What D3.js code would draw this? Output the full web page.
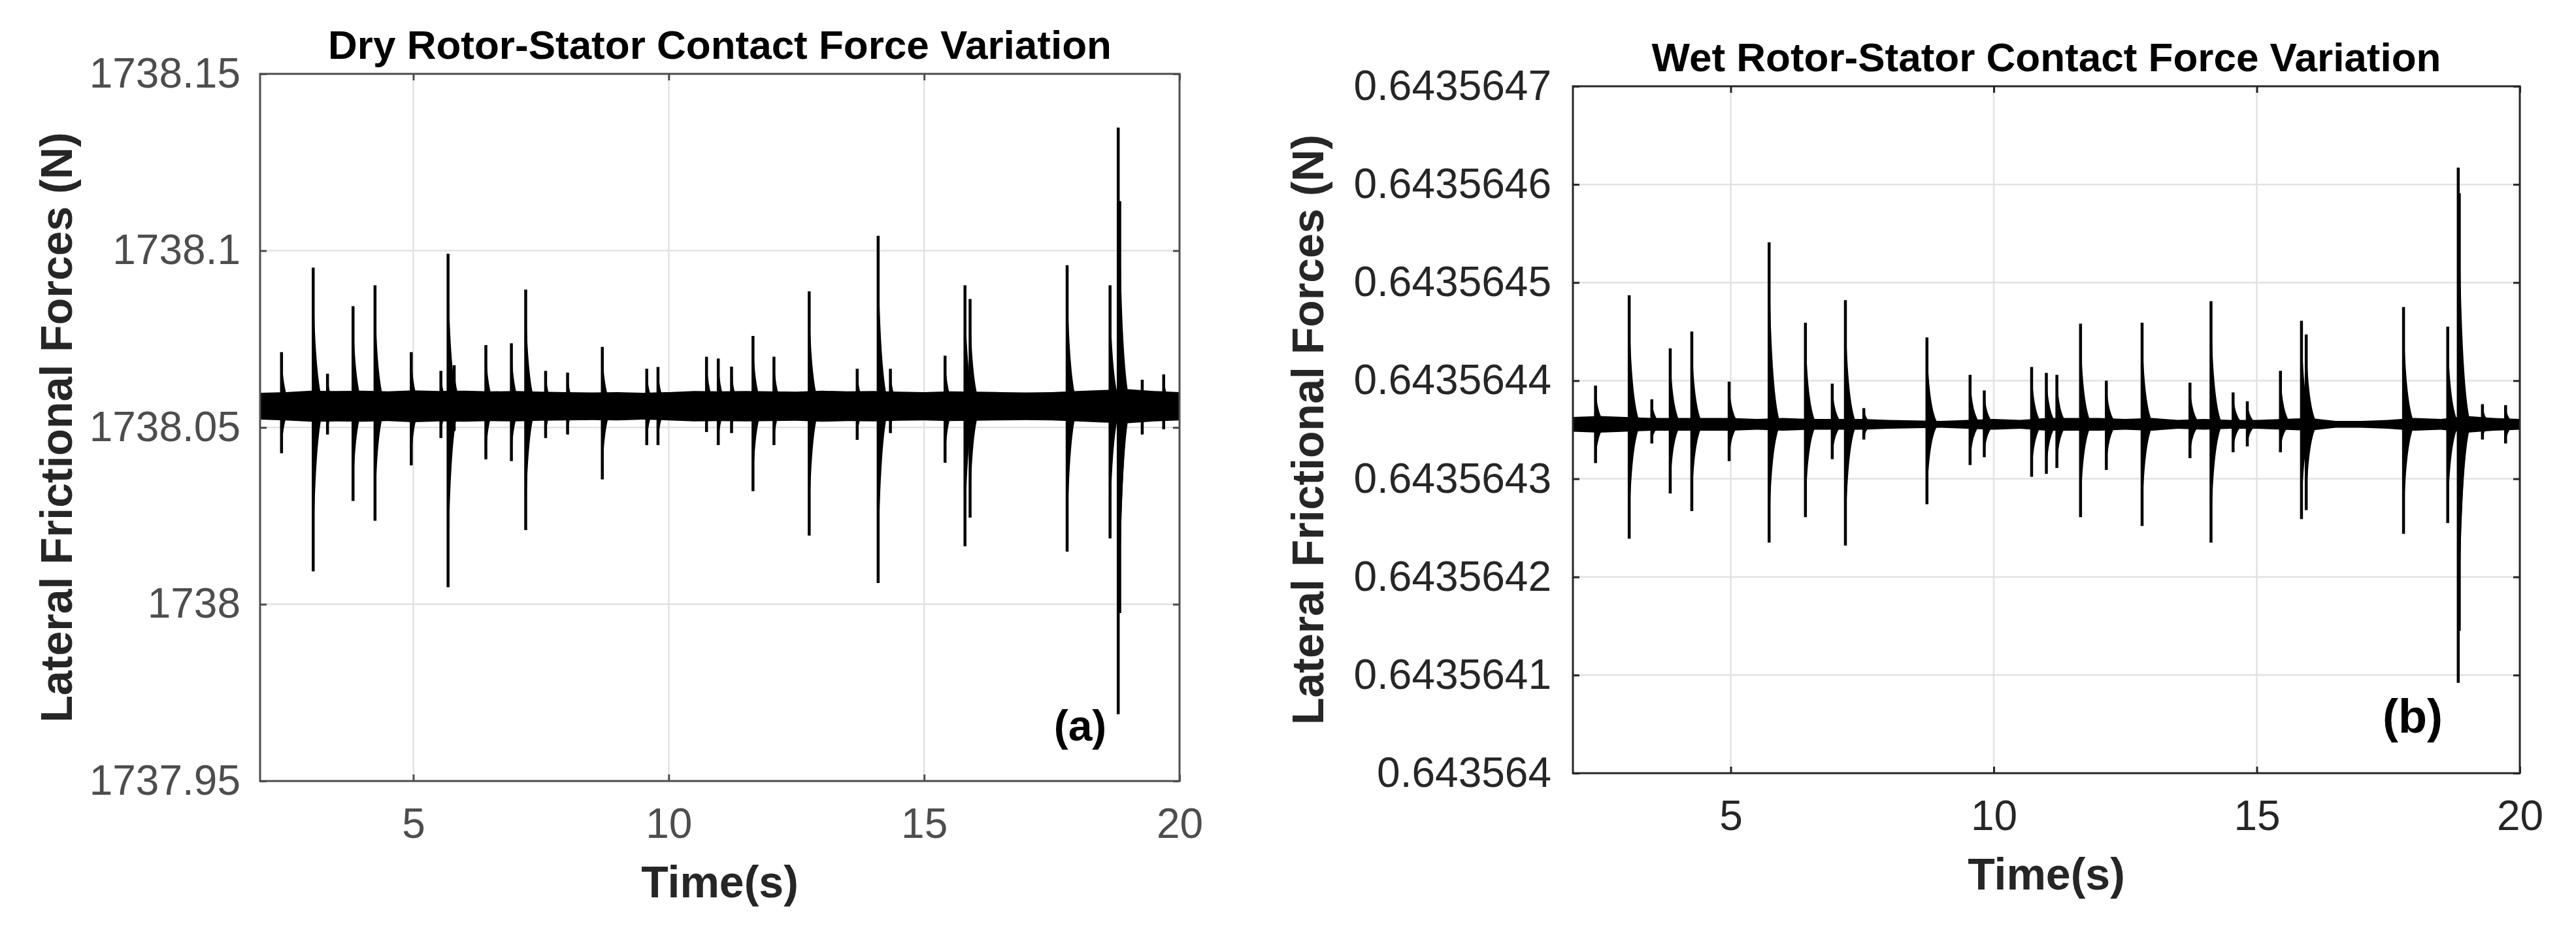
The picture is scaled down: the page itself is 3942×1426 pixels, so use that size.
<!DOCTYPE html>
<html>
<head>
<meta charset="utf-8">
<script src="https://cdn.jsdelivr.net/npm/d3@7"></script>
<style>
body { margin: 0; background: #fff; }
text { font-family: "Liberation Sans", Arial, sans-serif; }
</style>
</head>
<body>
<div id="chart"></div>
<script>
var svgWidth = 3942;
var svgHeight = 1426;

// shared time axis
var xTicks = [5, 10, 15, 20];
var bandTimes = [2, 2.5, 3, 3.5, 4, 4.5, 5, 5.5, 6, 6.5, 7, 7.5, 8, 8.5, 9, 9.5, 10, 10.5, 11,
  11.5, 12, 12.5, 13, 13.5, 14, 14.5, 15, 15.5, 16, 16.5, 17, 17.5, 18, 18.5, 19, 19.5, 20];

// dry contact (a)
var dryYTicks = [1737.95, 1738, 1738.05, 1738.1, 1738.15];
var dryYLabels = ["1737.95", "1738", "1738.05", "1738.1", "1738.15"];
var dryBandTop = [1738.0598, 1738.0600, 1738.0604, 1738.0603, 1738.0604, 1738.0602, 1738.0605, 1738.0603,
  1738.0604, 1738.0602, 1738.0603, 1738.0601, 1738.0600, 1738.0599, 1738.0600, 1738.0598, 1738.0600,
  1738.0603, 1738.0602, 1738.0603, 1738.0602, 1738.0601, 1738.0604, 1738.0602, 1738.0603, 1738.0601,
  1738.0600, 1738.0602, 1738.0601, 1738.0600, 1738.0599, 1738.0600, 1738.0603, 1738.0606, 1738.0608,
  1738.0603, 1738.0600];
var dryBandBottom = [1738.0522, 1738.0520, 1738.0516, 1738.0517, 1738.0516, 1738.0518, 1738.0515, 1738.0517,
  1738.0516, 1738.0518, 1738.0517, 1738.0519, 1738.0520, 1738.0521, 1738.0520, 1738.0522, 1738.0520,
  1738.0517, 1738.0518, 1738.0517, 1738.0518, 1738.0519, 1738.0516, 1738.0518, 1738.0517, 1738.0519,
  1738.0520, 1738.0518, 1738.0519, 1738.0520, 1738.0521, 1738.0520, 1738.0517, 1738.0514, 1738.0512,
  1738.0517, 1738.0520];
var drySpikeTimes = [2.42, 3.04, 3.32, 3.82, 4.25, 4.96, 5.54, 5.68, 5.80, 6.42, 6.92, 7.20, 7.59, 8.02,
  8.70, 9.57, 9.79, 10.74, 10.97, 11.23, 11.65, 12.06, 12.75, 13.69, 14.10, 14.34, 15.41, 15.80, 15.90,
  17.80, 18.64, 18.80, 18.83, 19.27, 19.69];
var drySpikeHigh = [1738.0713, 1738.0952, 1738.0652, 1738.0843, 1738.0902, 1738.0713, 1738.0660, 1738.0991,
  1738.0676, 1738.0733, 1738.0738, 1738.0890, 1738.0660, 1738.0655, 1738.0728, 1738.0666, 1738.0671,
  1738.0700, 1738.0695, 1738.0672, 1738.0759, 1738.0700, 1738.0885, 1738.0666, 1738.1042, 1738.0666,
  1738.0703, 1738.0902, 1738.0863, 1738.0959, 1738.0902, 1738.1348, 1738.1140, 1738.0635, 1738.0650];
var drySpikeLow = [1738.0427, 1738.0093, 1738.0480, 1738.0292, 1738.0236, 1738.0393, 1738.0470, 1738.0048,
  1738.0490, 1738.0410, 1738.0405, 1738.0210, 1738.0470, 1738.0480, 1738.0353, 1738.0450, 1738.0450,
  1738.0487, 1738.0450, 1738.0484, 1738.0320, 1738.0450, 1738.0194, 1738.0465, 1738.0060, 1738.0484,
  1738.0400, 1738.0164, 1738.0245, 1738.0149, 1738.0186, 1737.9689, 1737.9975, 1738.0480, 1738.0495];

// wet contact (b)
var wetYTicks = [0.643564, 0.6435641, 0.6435642, 0.6435643, 0.6435644, 0.6435645, 0.6435646, 0.6435647];
var wetYLabels = ["0.643564", "0.6435641", "0.6435642", "0.6435643", "0.6435644", "0.6435645",
  "0.6435646", "0.6435647"];
var wetBandTop = [0.643564363, 0.643564364, 0.643564363, 0.643564362, 0.643564362, 0.643564362, 0.643564362,
  0.643564361, 0.643564362, 0.643564361, 0.643564361, 0.643564361, 0.643564360, 0.6435643595, 0.643564359,
  0.643564360, 0.643564361, 0.643564360, 0.643564362, 0.643564362, 0.643564362, 0.643564361, 0.643564362,
  0.643564360, 0.643564361, 0.643564360, 0.643564360, 0.643564361, 0.643564362, 0.643564359, 0.643564359,
  0.643564360, 0.643564362, 0.643564361, 0.643564364, 0.643564362, 0.643564361];
var wetBandBottom = [0.643564348, 0.643564347, 0.643564348, 0.643564349, 0.643564349, 0.643564349, 0.643564349,
  0.643564350, 0.643564349, 0.643564350, 0.643564350, 0.643564350, 0.643564351, 0.6435643515, 0.643564352,
  0.643564351, 0.643564350, 0.643564351, 0.643564349, 0.643564349, 0.643564349, 0.643564350, 0.643564349,
  0.643564351, 0.643564350, 0.643564351, 0.643564351, 0.643564350, 0.643564349, 0.643564352, 0.643564352,
  0.643564351, 0.643564349, 0.643564350, 0.643564347, 0.643564349, 0.643564350];
var wetSpikeTimes = [2.43, 3.07, 3.50, 3.85, 4.26, 4.97, 5.73, 6.42, 6.93, 7.18, 7.53, 8.73, 9.55, 9.82,
  10.72, 11.00, 11.20, 11.65, 12.14, 12.82, 13.73, 14.13, 14.55, 14.82, 15.45, 15.85, 15.94, 17.79,
  18.63, 18.83, 18.85, 19.29, 19.73];
var wetSpikeHigh = [0.643564395, 0.643564487, 0.643564381, 0.643564433, 0.643564450, 0.643564399, 0.643564541,
  0.643564459, 0.643564397, 0.643564482, 0.643564372, 0.643564444, 0.643564406, 0.643564390, 0.643564414,
  0.643564408, 0.643564406, 0.643564458, 0.643564400, 0.643564459, 0.643564398, 0.643564481, 0.643564388,
  0.643564379, 0.643564410, 0.643564461, 0.643564447, 0.643564475, 0.643564455, 0.643564617, 0.643564591,
  0.643564376, 0.643564375];
var wetSpikeLow = [0.643564316, 0.643564239, 0.643564336, 0.643564285, 0.643564267, 0.643564318, 0.643564235,
  0.643564261, 0.643564320, 0.643564232, 0.643564340, 0.643564274, 0.643564314, 0.643564322, 0.643564302,
  0.643564305, 0.643564311, 0.643564261, 0.643564309, 0.643564252, 0.643564321, 0.643564235, 0.643564327,
  0.643564333, 0.643564327, 0.643564259, 0.643564268, 0.643564244, 0.643564255, 0.643564092, 0.643564145,
  0.643564340, 0.643564336];

var svg = d3.select("#chart")
  .append("svg")
  .attr("width", svgWidth)
  .attr("height", svgHeight);

var tailLen = 0.22;

function drawPanel(p) {
  var x = d3.scaleLinear().domain([2, 20]).range([p.left, p.right]);
  var y = d3.scaleLinear().domain([p.yTicks[0], p.yTicks[p.yTicks.length - 1]]).range([p.bottom, p.top]);
  var g = svg.append("g");

  // grid
  g.selectAll(".gx").data(xTicks.slice(0, -1)).enter().append("line")
    .attr("x1", d => x(d)).attr("x2", d => x(d))
    .attr("y1", p.top).attr("y2", p.bottom)
    .attr("stroke", "#e2e2e2").attr("stroke-width", 2.5);
  g.selectAll(".gy").data(p.yTicks.slice(1, -1)).enter().append("line")
    .attr("x1", p.left).attr("x2", p.right)
    .attr("y1", d => y(d)).attr("y2", d => y(d))
    .attr("stroke", "#e2e2e2").attr("stroke-width", 2.5);

  svg.append("clipPath").attr("id", "clip-" + p.id)
    .append("rect")
    .attr("x", p.left).attr("y", p.top)
    .attr("width", p.right - p.left).attr("height", p.bottom - p.top);
  var plot = g.append("g").attr("clip-path", `url(#clip-${p.id})`);

  // noise band
  var area = d3.area()
    .x((d, i) => x(bandTimes[i]))
    .y0((d, i) => y(p.bandBottom[i]))
    .y1((d, i) => y(p.bandTop[i]));
  plot.append("path").datum(p.bandTop).attr("d", area).attr("fill", "#000");

  // each spike: a needle plus a decaying tail above and below the band
  var base = (d3.mean(p.bandTop) + d3.mean(p.bandBottom)) / 2;
  function tail(t, v) {
    var path = d3.path();
    path.moveTo(x(t), y(v));
    path.quadraticCurveTo(x(t + 0.03), y(base + (v - base) * 0.15), x(t + tailLen), y(base));
    path.lineTo(x(t), y(base));
    path.closePath();
    return path.toString();
  }

  var spikes = p.spikeTimes.map((t, i) => ({ t: t, hi: p.spikeHigh[i], lo: p.spikeLow[i] }));
  var sp = plot.selectAll(".spike").data(spikes).enter().append("g");
  sp.append("path").attr("d", d => tail(d.t, d.hi)).attr("fill", "#000");
  sp.append("path").attr("d", d => tail(d.t, d.lo)).attr("fill", "#000");
  sp.append("line")
    .attr("x1", d => x(d.t)).attr("x2", d => x(d.t))
    .attr("y1", d => y(d.hi)).attr("y2", d => y(d.lo))
    .attr("stroke", "#000").attr("stroke-width", 4.5);

  // axes with inward ticks on all four sides
  function style(a) {
    a.select(".domain").remove();
    a.attr("font-size", 64).attr("font-family", '"Liberation Sans", Arial, sans-serif')
      .attr("color", p.axisColor);
    a.selectAll("line").attr("stroke-width", 3);
  }
  g.append("g").attr("transform", `translate(0,${p.bottom})`)
    .call(d3.axisBottom(x).tickValues(xTicks).tickSize(-10).tickSizeOuter(0).tickPadding(42))
    .call(style);
  g.append("g").attr("transform", `translate(0,${p.top})`)
    .call(d3.axisTop(x).tickValues(xTicks).tickSize(-10).tickSizeOuter(0).tickFormat(""))
    .call(style);
  g.append("g").attr("transform", `translate(${p.left},0)`)
    .call(d3.axisLeft(y).tickValues(p.yTicks).tickFormat((d, i) => p.yLabels[i])
      .tickSize(-10).tickSizeOuter(0).tickPadding(p.yPad))
    .call(style);
  g.append("g").attr("transform", `translate(${p.right},0)`)
    .call(d3.axisRight(y).tickValues(p.yTicks).tickSize(-10).tickSizeOuter(0).tickFormat(""))
    .call(style);

  g.append("rect")
    .attr("x", p.left).attr("y", p.top)
    .attr("width", p.right - p.left).attr("height", p.bottom - p.top)
    .attr("fill", "none").attr("stroke", p.axisColor).attr("stroke-width", 3);

  var cx = (p.left + p.right) / 2;
  g.append("text")
    .attr("x", cx).attr("y", p.top - 23)
    .attr("text-anchor", "middle").attr("font-size", 62).attr("font-weight", "bold")
    .text(p.title);

  g.append("text")
    .attr("x", cx).attr("y", p.bottom + 178)
    .attr("text-anchor", "middle").attr("font-size", 68).attr("font-weight", "bold")
    .attr("fill", "#262626")
    .text("Time(s)");

  g.append("text")
    .attr("transform", `translate(${p.yLabelX}, ${(p.top + p.bottom) / 2}) rotate(-90)`)
    .attr("text-anchor", "middle").attr("font-size", 68).attr("font-weight", "bold")
    .attr("fill", "#262626")
    .text("Lateral Frictional Forces (N)");

  g.append("text")
    .attr("x", p.tagX).attr("y", p.bottom - 62)
    .attr("text-anchor", "middle").attr("font-size", p.tagSize).attr("font-weight", "bold")
    .text(p.tag);
}

drawPanel({
  id: "dry", left: 398, right: 1805, top: 113, bottom: 1195,
  yTicks: dryYTicks, yLabels: dryYLabels, yPad: 30,
  bandTop: dryBandTop, bandBottom: dryBandBottom,
  spikeTimes: drySpikeTimes, spikeHigh: drySpikeHigh, spikeLow: drySpikeLow,
  axisColor: "#4d4d4d", title: "Dry Rotor-Stator Contact Force Variation",
  yLabelX: 110, tag: "(a)", tagX: 1653, tagSize: 66
});

drawPanel({
  id: "wet", left: 2407, right: 3856, top: 132, bottom: 1183,
  yTicks: wetYTicks, yLabels: wetYLabels, yPad: 33,
  bandTop: wetBandTop, bandBottom: wetBandBottom,
  spikeTimes: wetSpikeTimes, spikeHigh: wetSpikeHigh, spikeLow: wetSpikeLow,
  axisColor: "#262626", title: "Wet Rotor-Stator Contact Force Variation",
  yLabelX: 2025, tag: "(b)", tagX: 3692, tagSize: 72
});
</script>
</body>
</html>
